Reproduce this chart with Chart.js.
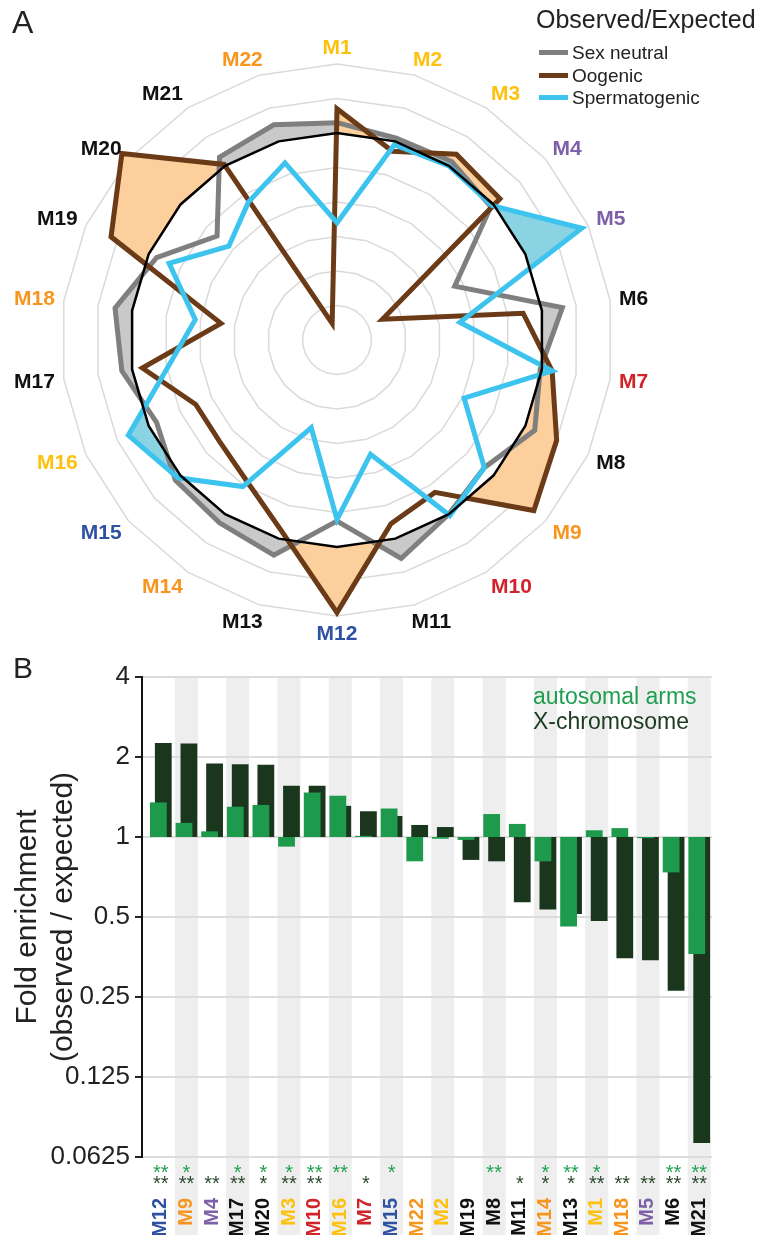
<!DOCTYPE html>
<html>
<head>
<meta charset="utf-8">
<script src="https://cdn.jsdelivr.net/npm/chart.js@4.4.1/dist/chart.umd.min.js"></script>
<style>
  body { margin: 0; background: #fff; font-family: "Liberation Sans", Arial, sans-serif; color: #222; }
  #page { position: relative; width: 757px; height: 1235px; overflow: hidden; }
  canvas { position: absolute; left: 0; }
  #radar { top: 0; }
  #bars { top: 650px; }
  .txt { position: absolute; white-space: nowrap; }
  .sw { position: absolute; width: 29px; height: 5px; }
</style>
</head>
<body>
<div id="page">
  <canvas id="radar" width="757" height="650"></canvas>
  <canvas id="bars" width="757" height="585"></canvas>

  <div class="txt" style="left:12px; top:6px; font-size:32px; line-height:32px;">A</div>
  <div class="txt" style="left:13px; top:653px; font-size:30px; line-height:30px;">B</div>

  <div class="txt" style="left:536px; top:7px; font-size:25px; line-height:25px;">Observed/Expected</div>
  <div class="sw" style="left:539px; top:50px; background:#7f7f7f;"></div>
  <div class="txt" style="left:572px; top:43px; font-size:19px; line-height:19px;">Sex neutral</div>
  <div class="sw" style="left:539px; top:73px; background:#6b3b18;"></div>
  <div class="txt" style="left:572px; top:66px; font-size:19px; line-height:19px;">Oogenic</div>
  <div class="sw" style="left:539px; top:95px; background:#3cc3ee;"></div>
  <div class="txt" style="left:572px; top:88px; font-size:19px; line-height:19px;">Spermatogenic</div>

  <div class="txt" style="left:533px; top:685px; font-size:23px; line-height:23px; color:#1f9e4f;">autosomal arms</div>
  <div class="txt" style="left:533px; top:710px; font-size:23px; line-height:23px; color:#1c3a1f;">X-chromosome</div>
</div>
<script>
// panel A - radar of observed/expected per module
const modules = ['M1', 'M2', 'M3', 'M4', 'M5', 'M6', 'M7', 'M8', 'M9', 'M10', 'M11',
                 'M12', 'M13', 'M14', 'M15', 'M16', 'M17', 'M18', 'M19', 'M20', 'M21', 'M22'];
const sexNeutral = [1.06, 1.02, 1.03, 0.98, 0.55, 1.12, 0.99, 1.06, 0.93, 1.00, 1.12,
                    0.85, 1.10, 1.06, 1.04, 0.95, 1.06, 1.10, 0.95, 0.72, 1.06, 1.10];
const oogenic = [1.14, 0.94, 1.08, 1.05, 0.09, 0.89, 1.06, 1.20, 1.31, 0.85, 0.91,
                 1.38, 0.95, 0.77, 0.70, 0.70, 0.94, 0.48, 1.24, 1.45, 1.01, -0.10];
const spermatogenic = [0.48, 0.98, 1.00, 0.99, 1.36, 0.52, 1.06, 0.61, 0.93, 1.01, 0.49,
                       0.84, 0.33, 0.81, 1.02, 1.13, 0.78, 0.63, 0.87, 0.63, 0.75, 0.87];
const expected = [1, 1, 1, 1, 1, 1, 1, 1, 1, 1, 1, 1, 1, 1, 1, 1, 1, 1, 1, 1, 1, 1];

// panel B - fold enrichment, sorted
const barModules = ['M12', 'M9', 'M4', 'M17', 'M20', 'M3', 'M10', 'M16', 'M7', 'M15', 'M22',
                    'M2', 'M19', 'M8', 'M11', 'M14', 'M13', 'M1', 'M18', 'M5', 'M6', 'M21'];
const autosomal = [1.35, 1.13, 1.05, 1.30, 1.32, 0.92, 1.47, 1.43, 1.01, 1.28, 0.81,
                   0.985, 0.975, 1.22, 1.12, 0.81, 0.46, 1.06, 1.08, 0.99, 0.736, 0.363];
const xChrom = [2.26, 2.25, 1.89, 1.88, 1.87, 1.56, 1.56, 1.31, 1.25, 1.20, 1.11,
                1.09, 0.82, 0.81, 0.568, 0.534, 0.513, 0.483, 0.35, 0.344, 0.264, 0.0705];
const starsAuto = ['**', '*', '', '*', '*', '*', '**', '**', '', '*', '',
                   '', '', '**', '', '*', '**', '*', '', '', '**', '**'];
const starsX = ['**', '**', '**', '**', '*', '**', '**', '', '*', '', '',
                '', '', '', '*', '*', '*', '**', '**', '**', '**', '**'];
const yTickValues = [0.0625, 0.125, 0.25, 0.5, 1, 2, 4];
const yTickLabels = ['0.0625', '0.125', '0.25', '0.5', '1', '2', '4'];

const moduleColors = {
  M1: '#fdc20f', M2: '#fdc20f', M3: '#fdc20f', M16: '#fdc20f',
  M4: '#7d60a8', M5: '#7d60a8',
  M7: '#d2232a', M10: '#d2232a',
  M9: '#f7961f', M14: '#f7961f', M18: '#f7961f', M22: '#f7961f',
  M12: '#2e51a2', M15: '#2e51a2'
};
function colorOf(m) { return moduleColors[m] || '#111'; }

// fill only where a series is outside the expected ring
const outsideFill = {
  id: 'outsideFill',
  beforeDatasetsDraw(chart) {
    const ctx = chart.ctx;
    const ref = chart.getDatasetMeta(3).data;
    [[0, '#c9c9c9'], [1, '#fdcf9c'], [2, '#8ad3e3']].forEach(([idx, color]) => {
      const pts = chart.getDatasetMeta(idx).data;
      ctx.save();
      ctx.beginPath();
      ctx.rect(0, 0, chart.width, chart.height);
      ref.forEach((p, i) => i ? ctx.lineTo(p.x, p.y) : ctx.moveTo(p.x, p.y));
      ctx.closePath();
      ctx.clip('evenodd');
      ctx.beginPath();
      pts.forEach((p, i) => i ? ctx.lineTo(p.x, p.y) : ctx.moveTo(p.x, p.y));
      ctx.closePath();
      ctx.fillStyle = color;
      ctx.fill();
      ctx.restore();
    });
  }
};

// module names round the radar, coloured
const radarLabels = {
  id: 'radarLabels',
  afterDraw(chart) {
    const scale = chart.scales.r;
    const ctx = chart.ctx;
    ctx.save();
    ctx.font = 'bold 21px "Liberation Sans", Arial, sans-serif';
    ctx.textAlign = 'center';
    ctx.textBaseline = 'middle';
    chart.data.labels.forEach((lab, i) => {
      const a = scale.getIndexAngle(i);
      const hw = ctx.measureText(lab).width / 2;
      const p = scale.getPointPosition(i, scale.drawingArea + 9);
      const fx = Math.max(-1, Math.min(1, 2.5 * Math.sin(a)));
      ctx.fillStyle = colorOf(lab);
      ctx.fillText(lab, p.x + hw * fx, p.y - 8 * Math.cos(a) + 1);
    });
    ctx.restore();
  }
};

new Chart(document.getElementById('radar'), {
  type: 'radar',
  data: {
    labels: modules,
    datasets: [
      { label: 'Sex neutral', data: sexNeutral, borderColor: '#7f7f7f', borderWidth: 5, order: 3 },
      { label: 'Oogenic', data: oogenic, borderColor: '#6b3b18', borderWidth: 5, order: 2 },
      { label: 'Spermatogenic', data: spermatogenic, borderColor: '#3cc3ee', borderWidth: 5, order: 1 },
      { label: 'Expected', data: expected, borderColor: '#000', borderWidth: 2.5, order: 0 }
    ]
  },
  options: {
    responsive: false,
    animation: false,
    layout: { padding: { left: 61, right: 144, top: 64, bottom: 34 } },
    elements: {
      line: { fill: false, tension: 0 },
      point: { radius: 0, hoverRadius: 0 }
    },
    plugins: { legend: { display: false }, tooltip: { enabled: false } },
    scales: {
      r: {
        min: -0.2,
        max: 1.4,
        ticks: { display: false, stepSize: 0.2 },
        grid: { color: '#dadada', lineWidth: 1.5 },
        angleLines: { display: false },
        pointLabels: { display: false }
      }
    }
  },
  plugins: [outsideFill, radarLabels]
});

// grey column stripes behind every other module
const stripes = {
  id: 'stripes',
  beforeDraw(chart) {
    const x = chart.scales.x;
    const top = chart.chartArea.top;
    const ctx = chart.ctx;
    ctx.save();
    ctx.fillStyle = '#eeeeee';
    barModules.forEach((m, i) => {
      if (i % 2 === 1) {
        const px = x.getPixelForValue(i);
        ctx.fillRect(px - 11.5, top, 23, chart.height - top);
      }
    });
    ctx.restore();
  }
};

// significance stars under each module (autosomal row, then X row)
const stars = {
  id: 'stars',
  afterDraw(chart) {
    const x = chart.scales.x;
    const bottom = chart.chartArea.bottom;
    const ctx = chart.ctx;
    ctx.save();
    ctx.font = '20px "Liberation Sans", Arial, sans-serif';
    ctx.textAlign = 'center';
    ctx.textBaseline = 'alphabetic';
    barModules.forEach((m, i) => {
      const px = x.getPixelForValue(i);
      ctx.fillStyle = '#22a153';
      ctx.fillText(starsAuto[i], px, bottom + 22);
      ctx.fillStyle = '#2c4a2e';
      ctx.fillText(starsX[i], px, bottom + 33);
    });
    ctx.restore();
  }
};

// small gap between the y axis line and the first module
const shiftCats = {
  id: 'shiftCats',
  afterLayout(chart) {
    const s = chart.scales.x;
    s.left += 6;
    s.width -= 6;
    s.configure();
  }
};

new Chart(document.getElementById('bars'), {
  type: 'bar',
  data: {
    labels: barModules,
    datasets: [
      { label: 'autosomal arms', data: autosomal.map(v => [1, v]), backgroundColor: '#1d9a4b' },
      { label: 'X-chromosome', data: xChrom.map(v => [1, v]), backgroundColor: '#1a361c' }
    ]
  },
  options: {
    responsive: false,
    animation: false,
    layout: { padding: { left: 0, right: 39, top: 27, bottom: 0 } },
    datasets: { bar: { categoryPercentage: 0.385, barPercentage: 3.4, borderWidth: 0 } },
    plugins: { legend: { display: false }, tooltip: { enabled: false } },
    scales: {
      y: {
        type: 'logarithmic',
        min: 0.0625,
        max: 4,
        afterBuildTicks: s => { s.ticks = yTickValues.map(v => ({ value: v })); },
        afterFit: s => { s.width = 142; },
        ticks: {
          callback: v => yTickLabels[yTickValues.indexOf(v)],
          font: { size: 26 },
          color: '#222',
          padding: 5,
          autoSkip: false
        },
        grid: { color: '#dcdcdc', lineWidth: 2, tickColor: '#222', tickLength: 7, tickWidth: 2 },
        border: { color: '#111', width: 2 },
        title: {
          display: true,
          text: ['Fold enrichment', '(observed / expected)'],
          font: { size: 30 },
          color: '#222',
          padding: { top: 10, bottom: 0 }
        }
      },
      x: {
        offset: true,
        grid: { display: false },
        border: { display: false },
        afterFit: s => { s.height = 78; },
        ticks: {
          autoSkip: false,
          minRotation: 90,
          maxRotation: 90,
          padding: 33,
          font: { size: 20, weight: 'bold' },
          color: c => colorOf(barModules[c.index])
        }
      }
    }
  },
  plugins: [stripes, stars, shiftCats]
});
</script>
</body>
</html>
